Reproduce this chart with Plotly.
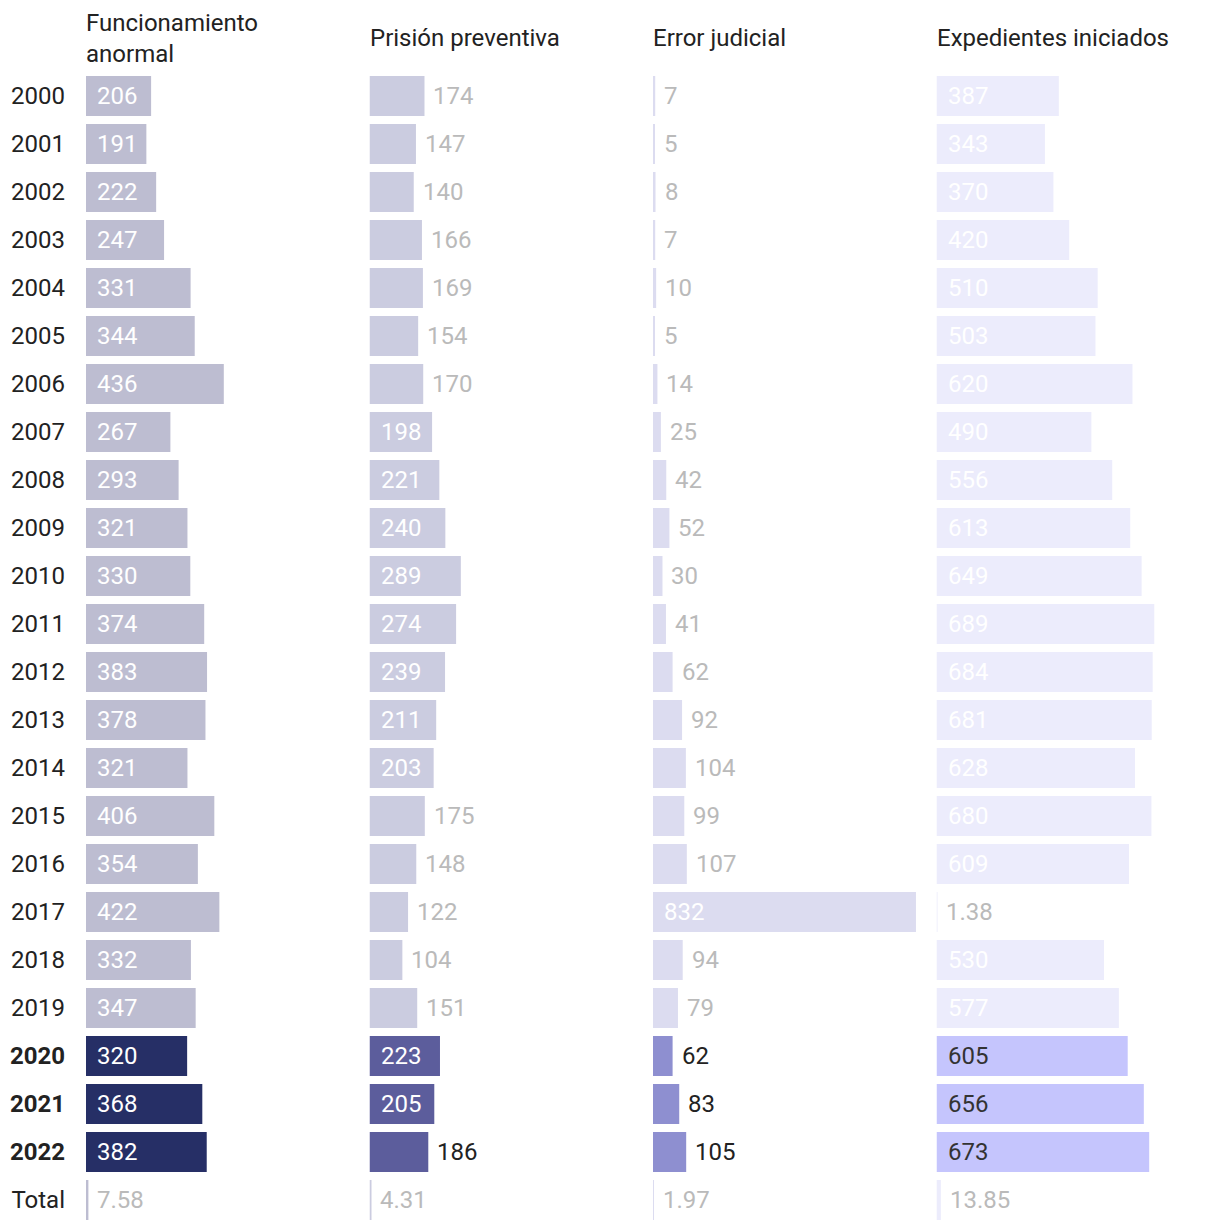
import plotly.graph_objects as go
from plotly.subplots import make_subplots

years = ["2000", "2001", "2002", "2003", "2004", "2005", "2006", "2007", "2008", "2009",
         "2010", "2011", "2012", "2013", "2014", "2015", "2016", "2017", "2018", "2019",
         "2020", "2021", "2022", "Total"]
highlight_years = ["2020", "2021", "2022"]

headers = ["Funcionamiento<br>anormal", "Prisión preventiva", "Error judicial", "Expedientes iniciados"]

funcionamiento = [206, 191, 222, 247, 331, 344, 436, 267, 293, 321, 330, 374, 383, 378, 321,
                  406, 354, 422, 332, 347, 320, 368, 382, 7.58]
prision = [174, 147, 140, 166, 169, 154, 170, 198, 221, 240, 289, 274, 239, 211, 203,
           175, 148, 122, 104, 151, 223, 205, 186, 4.31]
error_judicial = [7, 5, 8, 7, 10, 5, 14, 25, 42, 52, 30, 41, 62, 92, 104,
                  99, 107, 832, 94, 79, 62, 83, 105, 1.97]
expedientes = [387, 343, 370, 420, 510, 503, 620, 490, 556, 613, 649, 689, 684, 681, 628,
               680, 609, 1.38, 530, 577, 605, 656, 673, 13.85]

series = [funcionamiento, prision, error_judicial, expedientes]

normal_colors = ["#bdbdd1", "#cbcce0", "#dcdcf0", "#ececfc"]
highlight_colors = ["#262f66", "#5c5d9c", "#8e8fd0", "#c5c5fd"]
inside_text_normal = "#ffffff"
inside_text_highlight = ["#ffffff", "#ffffff", "#ffffff", "#333333"]
outside_text_normal = "#bababa"
outside_text_highlight = "#222222"

FONT = "Roboto, Arial, sans-serif"
LABEL_SIZE = 24
INSIDE_MIN = 190
X_MAX = 897

rows = list(range(len(years)))

fig = make_subplots(rows=1, cols=4, shared_yaxes=True, horizontal_spacing=0)

annotations = []
for c, vals in enumerate(series):
    col = c + 1
    colors = [highlight_colors[c] if y in highlight_years else normal_colors[c] for y in years]
    fig.add_trace(
        go.Bar(
            x=vals, y=rows, orientation="h", width=40 / 48,
            marker=dict(color=colors, line=dict(width=0)),
            customdata=years, hovertemplate="%{customdata}: %{x}<extra></extra>",
            showlegend=False,
        ),
        row=1, col=col,
    )
    xref = "x" if col == 1 else f"x{col}"
    yref = "y" if col == 1 else f"y{col}"
    for r, y, v in zip(rows, years, vals):
        hl = y in highlight_years
        txt = f"{v:g}" if isinstance(v, float) else str(v)
        if v >= INSIDE_MIN:
            color = inside_text_highlight[c] if hl else inside_text_normal
            annotations.append(dict(
                x=0, y=r, xref=xref, yref=yref, text=txt, showarrow=False,
                xanchor="left", yanchor="middle", xshift=9,
                font=dict(family=FONT, size=LABEL_SIZE, color=color),
            ))
        else:
            color = outside_text_highlight if hl else outside_text_normal
            annotations.append(dict(
                x=v, y=r, xref=xref, yref=yref, text=txt, showarrow=False,
                xanchor="left", yanchor="middle", xshift=7,
                font=dict(family=FONT, size=LABEL_SIZE, color=color),
            ))
    annotations.append(dict(
        x=0, y=1 + (64 - 30) / 1152, xref=f"{xref} domain", yref="paper",
        text=headers[c], showarrow=False, xanchor="left", yanchor="middle", align="left",
        xshift=-2,
        font=dict(family=FONT, size=24, color="#222222"),
    ))

for col in range(1, 5):
    fig.update_xaxes(range=[0, X_MAX], visible=False, fixedrange=True, row=1, col=col)

ticktext = [f"<b>{y}</b>" if y in highlight_years else y for y in years]
fig.update_yaxes(
    range=[len(years) - 0.5, -0.5], autorange=False,
    tickmode="array", tickvals=rows, ticktext=ticktext,
    showgrid=False, zeroline=False, showline=False, ticks="",
    ticklabelstandoff=20, automargin=False,
    tickfont=dict(family=FONT, size=LABEL_SIZE, color="#222222"),
    fixedrange=True,
)

fig.update_layout(
    width=1212, height=1222,
    margin=dict(l=78, r=0, t=64, b=6, autoexpand=False),
    paper_bgcolor="white", plot_bgcolor="white",
    annotations=annotations,
    font=dict(family=FONT),
)

fig.write_html("out.html")
